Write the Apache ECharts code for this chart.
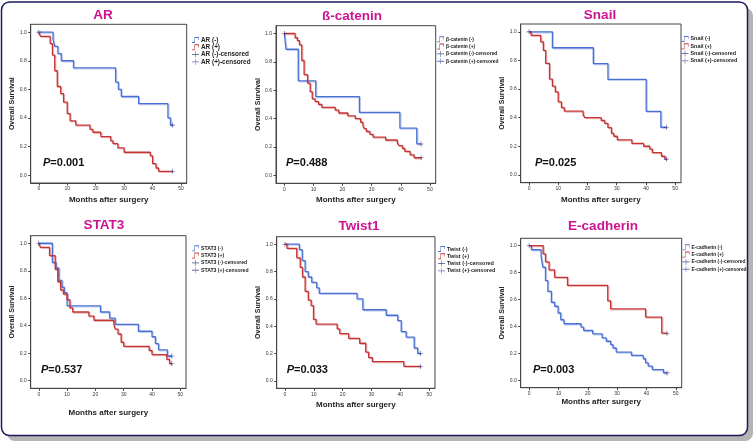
<!DOCTYPE html>
<html><head><meta charset="utf-8">
<script src="https://cdn.jsdelivr.net/npm/echarts@6/dist/echarts.min.js"></script>
<style>html,body{margin:0;padding:0;background:#fff}#c{width:753px;height:441px}</style>
</head><body><div id="c"></div>
<script>
// ---------- DATA ----------
const panelTitles = ['AR', 'ß-catenin', 'Snail', 'STAT3', 'Twist1', 'E-cadherin'];
const legendPrefixes = ['AR', 'β-catenin', 'Snail', 'STAT3', 'Twist', 'E-cadherin'];
const pValues = ['0.001', '0.488', '0.025', '0.537', '0.033', '0.003'];
const xTickValues = [0, 10, 20, 30, 40, 50];
const yTickValues = [0, 0.2, 0.4, 0.6, 0.8, 1.0];

// AR
const arNegT = [0,5,5.6,6.7,7.9,12.2,27,28,29,35.1,45.4,46.3,47];
const arNegS = [1,0.95,0.90,0.85,0.80,0.75,0.65,0.60,0.55,0.50,0.40,0.35,0.35];
const arPosT = [0,0.6,4,4.8,5.6,6.5,7.7,8.7,10,11,13,18,19,21.8,25.3,26.1,27.8,30,39.2,40,41.2,42.1,47];
const arPosS = [1,0.97,0.92,0.84,0.73,0.62,0.57,0.51,0.43,0.38,0.35,0.32,0.30,0.27,0.24,0.22,0.19,0.16,0.135,0.08,0.05,0.027,0.027];
// beta-catenin
const bcNegT = [0,0.6,4.8,10.8,25.8,39.7,45.5,47];
const bcNegS = [1,0.889,0.667,0.556,0.444,0.333,0.222,0.222];
const bcPosT = [0,3.7,4.5,5.2,6,6.8,8,8.9,9.6,10.6,11.8,12.9,17.5,18.7,21.8,24.4,26.2,27,27.5,28.2,29.4,30.5,34.8,38.8,39.4,40.6,41.4,43.2,44.6,47];
const bcPosS = [1,0.97,0.95,0.92,0.81,0.71,0.65,0.59,0.54,0.52,0.50,0.48,0.46,0.44,0.42,0.40,0.375,0.35,0.33,0.31,0.29,0.27,0.25,0.23,0.21,0.19,0.17,0.145,0.125,0.125];
// Snail
const snNegT = [0,8,22,27,40.1,45.1,47];
const snNegS = [1,0.889,0.778,0.667,0.444,0.333,0.333];
const snPosT = [0,0.7,4,4.9,5.7,7,8,9,10,11.1,12.1,18.5,19.1,24.7,25.9,27,28.2,29,30.2,35.2,39.2,41.3,42.2,45.3,46.5,47];
const snPosS = [1,0.975,0.93,0.87,0.78,0.67,0.62,0.58,0.51,0.47,0.445,0.42,0.40,0.38,0.36,0.33,0.29,0.27,0.245,0.22,0.20,0.18,0.155,0.13,0.11,0.11];
// STAT3
const stNegT = [0,4.8,6.1,7.1,8.2,9,10,21.8,25,27,35.2,40,41.2,42.3,45.4,47];
const stNegS = [1,0.86,0.82,0.73,0.68,0.64,0.545,0.50,0.455,0.41,0.36,0.32,0.27,0.225,0.18,0.18];
const stPosT = [0,0.6,3.8,5.8,6.7,7.7,8.7,10,11,12,17.7,19.5,26.5,27,28,29.1,30,39,40,45.2,46.2,47];
const stPosS = [1,0.97,0.91,0.81,0.72,0.66,0.63,0.59,0.53,0.50,0.47,0.44,0.41,0.375,0.34,0.28,0.25,0.22,0.19,0.155,0.125,0.125];
// Twist1
const twNegT = [0,5,6,7,8.1,9.3,11,11.9,25,27,35.1,39.1,40.3,42,44.8,46,47];
const twNegS = [1,0.96,0.88,0.80,0.76,0.72,0.68,0.64,0.60,0.52,0.48,0.44,0.36,0.32,0.24,0.20,0.20];
const twPosT = [0,0.7,4.1,5.3,6.1,7,8.1,9.1,9.9,10.8,18.1,19,22.1,25.9,28,29,30.3,41.2,47];
const twPosS = [1,0.97,0.90,0.83,0.76,0.655,0.59,0.55,0.45,0.415,0.38,0.345,0.31,0.275,0.21,0.17,0.14,0.105,0.105];
// E-cadherin
const ecNegT = [0,0.8,4.1,4.7,5.6,6.4,7.6,8.7,9.9,10.8,11.9,17.7,18.6,21.7,24.9,26.3,27.8,28.6,29.7,34.9,38.9,39.7,40.6,42,45.8,47];
const ecNegS = [1,0.97,0.92,0.84,0.74,0.66,0.58,0.55,0.50,0.45,0.42,0.395,0.37,0.345,0.315,0.29,0.265,0.24,0.21,0.185,0.16,0.13,0.105,0.08,0.055,0.055];
const ecPosT = [0,4.8,5.6,6.8,8.7,13.1,26.8,27.8,39.7,45.2,47];
const ecPosS = [1,0.94,0.88,0.82,0.765,0.705,0.59,0.53,0.47,0.35,0.35];

// censored observations [time, survival]
const arNegCens = [[0,1],[47,0.35]];   const arPosCens = [[47,0.027]];
const bcNegCens = [[0,1],[47,0.222]];  const bcPosCens = [[47,0.125]];
const snNegCens = [[0,1],[47,0.333]];  const snPosCens = [[47,0.11]];
const stNegCens = [[0,1],[47,0.18]];   const stPosCens = [[47,0.125]];
const twNegCens = [[0,1],[47,0.20]];   const twPosCens = [[47,0.105]];
const ecNegCens = [[0,1],[47,0.055]];  const ecPosCens = [[47,0.35]];

// ---------- LAYOUT ----------
const curves = [
  [arNegT,arNegS,arPosT,arPosS,arNegCens,arPosCens],
  [bcNegT,bcNegS,bcPosT,bcPosS,bcNegCens,bcPosCens],
  [snNegT,snNegS,snPosT,snPosS,snNegCens,snPosCens],
  [stNegT,stNegS,stPosT,stPosS,stNegCens,stPosCens],
  [twNegT,twNegS,twPosT,twPosS,twNegCens,twPosCens],
  [ecNegT,ecNegS,ecPosT,ecPosS,ecNegCens,ecPosCens]
];
const layout = [
  {g:[30.7,24.3,156,158.7],  t:[103,15.5],  lg:[192,36.5],   p:[43,163],    xg:13,   yg:15.5, lf:6.4},
  {g:[276,25.7,159.7,157.6], t:[352,16.5],  lg:[437,35.8],   p:[286,163],   xg:12.7, yg:11,   lf:4.9},
  {g:[520.7,24,160.3,158.7], t:[600,15.5],  lg:[681.5,35.5], p:[535,163],   xg:13,   yg:13,   lf:5.4},
  {g:[30.7,235.7,155.3,152.6],t:[104,225.5],lg:[192,244.8],  p:[41,370],    xg:20,   yg:13,   lf:5.1},
  {g:[276.7,236.7,158.3,151.6],t:[359,226], lg:[438,245.5],  p:[286.7,370], xg:12,   yg:13,   lf:5.5},
  {g:[520.7,238.3,161,149.4],t:[603,226.5], lg:[682.5,243.8],p:[533,370],   xg:10,   yg:12,   lf:4.8}
];
const FONT = '"Liberation Sans", Arial, sans-serif';
const BLUE = '#4a70d4', RED = '#c43434', NAVY = '#1e1e78', NAVY2 = '#3d4fb0';
const stepIcon = 'path://M0,8.25L7,8.25L7,0L20,0L20,5L18.5,5L18.5,1.5L8.5,1.5L8.5,9.75L0,9.75Z';
const plusIcon = 'path://M0,4.25L20,4.25L20,5.75L0,5.75Z M9.25,0L10.75,0L10.75,10L9.25,10Z';
const plusMark = 'path://M0,4.4L10,4.4L10,5.6L0,5.6Z M4.4,0L5.6,0L5.6,10L4.4,10Z';

const zip = (t, s) => t.map((v, i) => [v, s[i]]);
const grids = [], xAxes = [], yAxes = [], series = [], legends = [], graphics = [];

graphics.push({type:'rect', z:-20, shape:{x:7, y:8, width:746, height:433, r:8}, style:{fill:'#b4b4b4'}, silent:true});
graphics.push({type:'rect', z:-19, shape:{x:1.5, y:2, width:746, height:433.5, r:8}, style:{fill:'#fff', stroke:'#1a1a5c', lineWidth:1.5}, silent:true});

layout.forEach((L, i) => {
  const [nT,nS,pT,pS,nC,pC] = curves[i];
  const pre = legendPrefixes[i];
  const names = [pre+' (-)', pre+' (+)', pre+' (-)-censored', pre+' (+)-censored'];
  grids.push({left:L.g[0], top:L.g[1], width:L.g[2], height:L.g[3], show:true, borderColor:'#444', borderWidth:1, backgroundColor:'transparent'});
  xAxes.push({gridIndex:i, type:'value', min:-2.85, max:52,
    axisLine:{show:true, onZero:false, lineStyle:{color:'#444', width:1}},
    axisTick:{show:true, customValues:xTickValues, length:2.5, lineStyle:{color:'#444'}},
    axisLabel:{customValues:xTickValues, fontSize:5, color:'#333', margin:3.5, fontFamily:FONT},
    splitLine:{show:false},
    name:'Months after surgery', nameLocation:'middle', nameGap:L.xg,
    nameTextStyle:{fontSize:8, fontWeight:'bold', color:'#222', fontFamily:FONT}});
  yAxes.push({gridIndex:i, type:'value', min:-0.055, max:1.055,
    axisLine:{show:true, onZero:false, lineStyle:{color:'#444', width:1}},
    axisTick:{show:true, customValues:yTickValues, length:2.5, lineStyle:{color:'#444'}},
    axisLabel:{customValues:yTickValues, fontSize:5, color:'#333', margin:4, fontFamily:FONT, formatter:v => v.toFixed(1)},
    splitLine:{show:false},
    name:'Overall Survival', nameLocation:'middle', nameGap:L.yg,
    nameTextStyle:{fontSize:7, fontWeight:'bold', color:'#222', fontFamily:FONT}});
  series.push({name:names[0], type:'line', step:'end', xAxisIndex:i, yAxisIndex:i, data:zip(nT,nS), symbol:'none',
    lineStyle:{color:BLUE, width:1.3, shadowColor:'rgba(74,112,212,0.35)', shadowOffsetX:1, shadowOffsetY:1}, itemStyle:{color:BLUE}, z:3});
  series.push({name:names[1], type:'line', step:'end', xAxisIndex:i, yAxisIndex:i, data:zip(pT,pS), symbol:'none',
    lineStyle:{color:RED, width:1.3, shadowColor:'rgba(196,52,52,0.35)', shadowOffsetX:1, shadowOffsetY:1}, itemStyle:{color:RED}, z:3});
  series.push({name:names[2], type:'scatter', xAxisIndex:i, yAxisIndex:i, data:nC, symbol:plusMark, symbolSize:5, itemStyle:{color:NAVY}, z:4});
  series.push({name:names[3], type:'scatter', xAxisIndex:i, yAxisIndex:i, data:pC, symbol:plusMark, symbolSize:5, itemStyle:{color:NAVY}, z:4});
  legends.push({left:L.lg[0], top:L.lg[1], orient:'vertical', selectedMode:false, itemWidth:7, itemHeight:6, itemGap:0.3,
    symbolKeepAspect:false, padding:0, itemStyle:{borderWidth:0},
    textStyle:{fontSize:L.lf, fontWeight:'bold', color:'#222', fontFamily:FONT, lineHeight:7, padding:[0,0,0,-3]},
    data:[{name:names[0], icon:stepIcon, itemStyle:{color:BLUE}},
          {name:names[1], icon:stepIcon, itemStyle:{color:RED}},
          {name:names[2], icon:plusIcon, itemStyle:{color:NAVY}},
          {name:names[3], icon:plusIcon, itemStyle:{color:NAVY2}}]});
  graphics.push({type:'text', x:L.t[0], y:L.t[1], silent:true,
    style:{text:panelTitles[i], fill:'#cc1490', font:'bold 13.5px '+FONT, align:'center', verticalAlign:'middle'}});
  graphics.push({type:'text', x:L.p[0], y:L.p[1], silent:true,
    style:{text:'{p|P}{n|='+pValues[i]+'}', fill:'#111', font:'bold 11px '+FONT, align:'left', verticalAlign:'middle',
      rich:{p:{font:'italic bold 11px '+FONT, fill:'#111'}, n:{font:'bold 11px '+FONT, fill:'#111'}}}});
});

const chart = echarts.init(document.getElementById('c'));
chart.setOption({animation:false, backgroundColor:'#fff', grid:grids, xAxis:xAxes, yAxis:yAxes, series:series, legend:legends, graphic:graphics});
</script></body></html>
